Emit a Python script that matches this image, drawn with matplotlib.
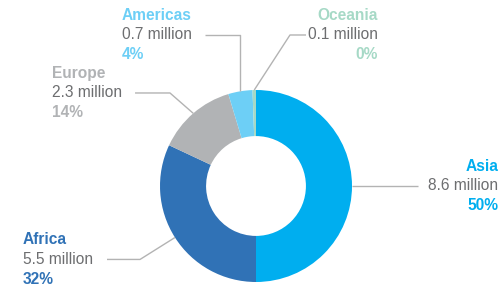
#!/usr/bin/env python3
"""Donut chart of regional totals with labelled leader lines."""
import matplotlib
matplotlib.use("Agg")
import matplotlib.pyplot as plt
import numpy as np

regions = ["Asia", "Africa", "Europe", "Americas", "Oceania"]
millions = [8.6, 5.5, 2.3, 0.7, 0.1]
percents = ["50%", "32%", "14%", "4%", "0%"]
colors = ["#00aeef", "#3072b6", "#b1b3b5", "#6dcff6", "#a6d9c6"]

plt.rcParams["font.family"] = ["Liberation Sans", "DejaVu Sans"]

GREY_TEXT = "#6d6e70"
LINE = "#b3b3b3"
FS = 11.2

fig = plt.figure(figsize=(5.04, 2.86), dpi=100)
ax = fig.add_axes([0, 0, 1, 1])
wedges, _ = ax.pie(millions, colors=colors, startangle=90, counterclock=False,
                   radius=1.0, wedgeprops=dict(width=0.48, linewidth=0))
ax.set_xlim(-256 / 96, (504 - 256) / 96)
ax.set_ylim(-100 / 96, 186 / 96)
ax.set_aspect("equal")
ax.axis("off")

# label layout: (text x, middle line y, alignment, elbow points leading to wedge)
layout = {
    "Asia": (2.521, 0.0, "right", [(1.6875, 0.0)]),
    "Africa": (-2.427, -0.765, "left", [(-1.552, -0.765), (-1.208, -0.765)]),
    "Europe": (-2.125, 0.969, "left", [(-1.26, 0.969), (-0.896, 0.969)]),
    "Americas": (-1.396, 1.573, "left", [(-0.531, 1.573), (None, 1.573)]),
    "Oceania": (1.271, 1.573, "right", [(0.521, 1.573), (0.354, 1.573)]),
}

step = 0.205
for w, name, val, pct, col in zip(wedges, regions, millions, percents, colors):
    mid = np.deg2rad((w.theta1 + w.theta2) / 2)
    ax_x, ax_y = np.cos(mid), np.sin(mid)
    tx, ty, ha, pts = layout[name]
    pts = [(ax_x if px is None else px, py) for px, py in pts] + [(ax_x, ax_y)]
    xs, ys = zip(*pts)
    ax.plot(xs, ys, color=LINE, lw=1.0, solid_capstyle="butt")

    ax.text(tx, ty + step, name, ha=ha, va="center", fontsize=FS,
            fontweight="bold", color=col)
    ax.text(tx, ty, f"{val} million", ha=ha, va="center", fontsize=FS,
            color=GREY_TEXT)
    ax.text(tx, ty - step, pct, ha=ha, va="center", fontsize=FS,
            fontweight="bold", color=col)

fig.savefig("out.png", dpi=100)
plt.close(fig)
